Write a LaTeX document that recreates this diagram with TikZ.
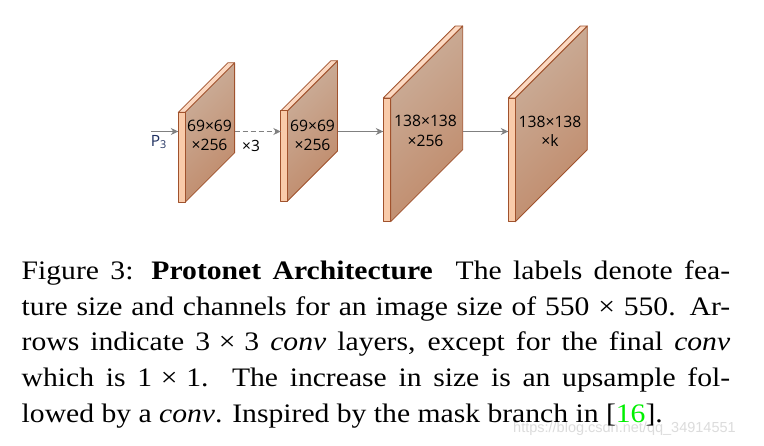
\documentclass[tikz,border=0pt]{standalone}
\usepackage{fontspec}
\setmainfont[FakeStretch=1.11]{Liberation Serif}
\newfontfamily\labfont{Open Sans}
\newfontfamily\wmfont{Liberation Sans}
\usetikzlibrary{arrows.meta}
\definecolor{facelight}{HTML}{CBAF9B}
\definecolor{facedark}{HTML}{C08A6A}
\definecolor{stripc}{HTML}{F9CBAA}
\definecolor{striptop}{HTML}{FCD9C2}
\definecolor{edgec}{HTML}{A0522D}
\definecolor{arrc}{HTML}{808080}
\definecolor{pblue}{HTML}{1F3060}
\definecolor{wmgray}{HTML}{DCDCDC}
\definecolor{refgreen}{HTML}{00F000}
\tikzset{
  slabface/.style={draw=edgec, line width=0.8pt, line join=round, top color=facelight, bottom color=facedark, shading angle=45},
  slabstrip/.style={draw=edgec, line width=0.8pt, line join=round, fill=stripc},
  slabtop/.style={draw=edgec, line width=0.8pt, line join=round, fill=striptop},
  lab/.style={font=\labfont\fontsize{15.7}{19.3}\selectfont, align=center, inner sep=0pt},
  conn/.style={draw=arrc, line width=1.1pt, -{Stealth[length=7.5pt,width=7pt]}},
  capline/.style={anchor=base west, inner sep=0pt, font=\fontsize{26.7}{35.8}\selectfont},
}
% #1 name, #2 x0, #3 strip width, #4 ytop, #5 ybot, #6 depth, #7 arrow y
\newcommand\myslab[7]{%
  \shade[slabface] ({#2+#3},#4) -- ({#2+#3+#6},{#4-#6}) -- ({#2+#3+#6},{#5-#6}) -- ({#2+#3},#5) -- cycle;
  \path[slabtop] (#2,#4) -- ({#2+#6},{#4-#6}) -- ({#2+#3+#6},{#4-#6}) -- ({#2+#3},#4) -- cycle;
  \path[slabstrip] (#2,#4) rectangle ({#2+#3},#5);
  \coordinate (#1w) at (#2,#7);
  \coordinate (#1e) at ({#2+#3+#6},#7);
}
\newcommand\tms{\hspace{0.33em}×\hspace{0.33em}}
\begin{document}
\begin{tikzpicture}[x=1pt,y=-1pt]
\useasboundingbox (0,0) rectangle (764,445);
\fill[white] (0,0) rectangle (764,445);

\myslab{s1}{178.3}{6.8}{112.3}{202.3}{49.5}{131.5}
\myslab{s2}{280.8}{6.7}{110.8}{201}{50}{131.5}
\myslab{s3}{383.3}{7.4}{98}{221.7}{72}{131.5}
\myslab{s4}{508.3}{7.0}{98}{221.7}{72}{131.5}

\node[lab] (t1) at (209.5,135.5) {69×69\\×256};
\node[lab] (t2) at (312.5,135.5) {69×69\\×256};
\node[lab] (t3) at (425.5,131) {138×138\\×256};
\node[lab] (t4) at (550,131) {138×138\\×k};

\coordinate (pin) at (151,131.5);
\node[font=\labfont\fontsize{15.5}{17}\selectfont, text=pblue, inner sep=0pt] (p3) at (158.8,142) {P\textsubscript{3}};
\node[font=\labfont\fontsize{15.5}{17}\selectfont, inner sep=0pt] (x3) at (251,145.5) {×3};

\draw[conn] (pin) -- (s1w);
\draw[conn, dash pattern=on 5pt off 3pt] (s1e) -- (s2w);
\draw[conn] (s2e) -- (s3w);
\draw[conn] (s3e) -- (s4w);

\node[anchor=base west, inner sep=0pt, font=\wmfont\fontsize{14.5}{16}\selectfont, text=wmgray] (wm) at (513,432.7) {https://blog.csdn.net/qq\_34914551};

\node[capline] (c1) at (21.5,279.3) {\makebox[708.5pt][s]{Figure 3: \textbf{Protonet Architecture}\ \ The labels denote fea-}};
\node[capline] (c2) at (21.5,315.1) {\makebox[708.5pt][s]{ture size and channels for an image size of 550\tms 550. Ar-}};
\node[capline] (c3) at (21.5,350.9) {\makebox[708.5pt][s]{rows indicate 3\tms 3 \textit{conv} layers, except for the final \textit{conv}}};
\node[capline] (c4) at (21.5,386.7) {\makebox[708.5pt][s]{which is 1\tms 1.\ \ The increase in size is an upsample fol-}};
\node[capline] (c5) at (21.5,422.5) {lowed by a \textit{conv}. Inspired by the mask branch in [\textcolor{refgreen}{16}].};
\end{tikzpicture}
\end{document}
